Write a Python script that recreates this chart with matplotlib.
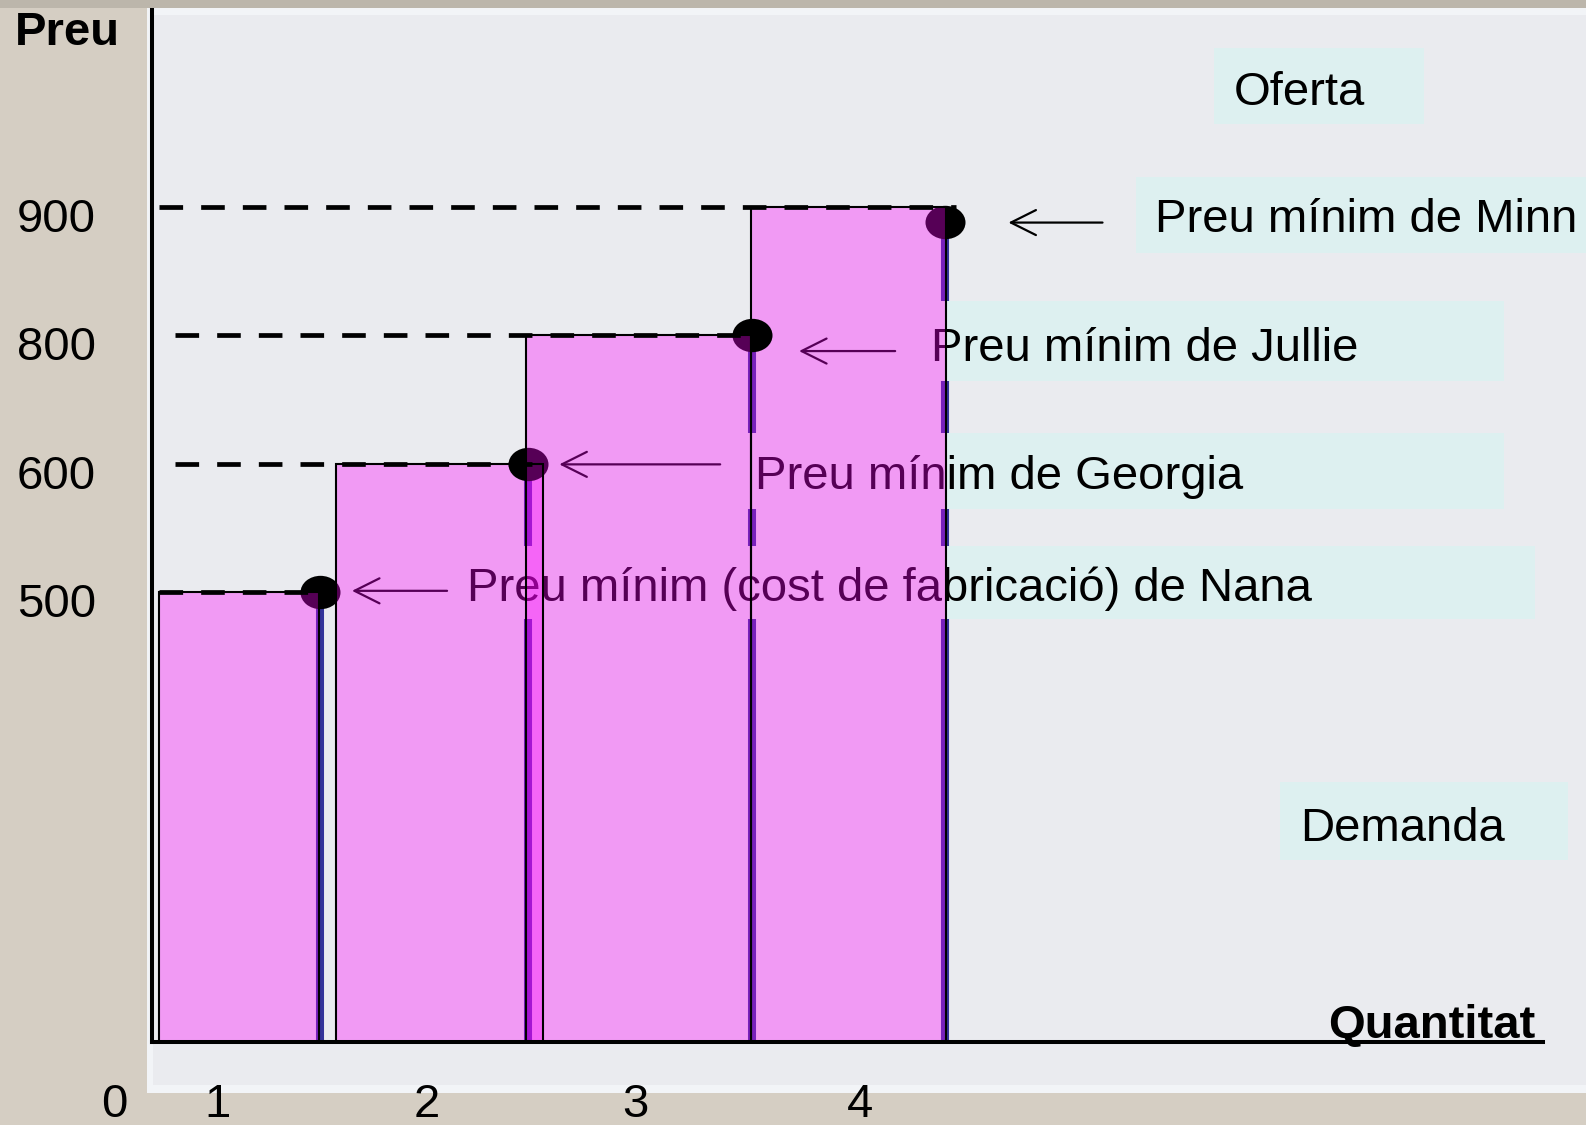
import numpy as np
import matplotlib
matplotlib.use("Agg")
import matplotlib.pyplot as plt
from matplotlib.patches import Rectangle
from matplotlib.path import Path
from matplotlib.transforms import ScaledTranslation

# ---------------- data ----------------
sellers = ["Nana", "Georgia", "Jullie", "Minn"]
quantities = [1, 2, 3, 4]
min_prices = [500, 600, 800, 900]
price_ticks = [500, 600, 800, 900]
price_tick_labels = ["500", "600", "800", "900"]
qty_tick_labels = ["0", "1", "2", "3", "4"]
# schematic supply steps (quantity units of the drawing)
step_left = [0.035, 0.91, 1.85, 2.96]
step_right = [0.825, 1.935, 2.96, 3.925]
point_q = [0.83, 1.86, 2.965, 3.92]
dot_prices = [500, 600, 800, 888]
dash_start = [0.035, 0.115, 0.115, 0.035]
dash_end = [0.825, 1.935, 2.96, 3.975]
qty_tick_pos = [-0.185, 0.325, 1.36, 2.39, 3.5]

label_texts = ["Oferta", "Preu mínim de Minn", "Preu mínim de Jullie",
               "Preu mínim de Georgia", "Preu mínim (cost de fabricació) de Nana",
               "Demanda"]

# ---------------- layout (reference pixel frame 1568x1112) ----------------
W, H = 1568.0, 1112.0
def fx(x):
    return x / W
def fy(y):
    return 1 - y / H

# boxes: (x0, y0, x1, y1), text x, text baseline
label_layout = [
    ((1200, 47, 1408, 123), 1220, 104),
    ((1123, 175, 1600, 250), 1142, 229),
    ((905, 298, 1487, 377), 920, 357),
    ((728, 428, 1487, 503), 746, 483),
    ((445, 540, 1518, 612), 462, 594),
    ((1265, 773, 1550, 850), 1285, 831),
]
# arrows: tail (x,y) -> tip (x,y)
arrow_layout = [
    ((1090, 220), (997, 220)),
    ((885, 347), (790, 347)),
    ((712, 459), (553, 459)),
    ((442, 584), (348, 584)),
]
# stacking of each bar / dot (as in the slide)
bar_z = [3.3, 3.4, 3.7, 3.1]
dot_z = [3.2, 3.5, 3.6, 3.0]

PANEL = "#EAEBEF"
BOX = "#DDF0F0"

plt.rcParams["font.family"] = ["Liberation Sans", "DejaVu Sans"]
plt.rcParams["lines.scale_dashes"] = False

fig = plt.figure(figsize=(15.86, 11.25), dpi=100)
fig.patch.set_facecolor("#D5CEC3")

# slide panel
fig.add_artist(Rectangle((0, fy(8)), 1, 8 / H, transform=fig.transFigure,
                         facecolor="#BCB6AB", edgecolor="none", zorder=-20))
fig.add_artist(Rectangle((fx(145), fy(1080)), 1, (1080 - 8) / H, transform=fig.transFigure,
                         facecolor="#F2F4F7", edgecolor="none", zorder=-19))
fig.add_artist(Rectangle((fx(151), fy(1072)), 1, (1072 - 15) / H, transform=fig.transFigure,
                         facecolor=PANEL, edgecolor="none", zorder=-18))

# axes: x units -> origin at 150 px, 200 px per unit
ax_left_px, ax_right_px = 110, 1525
ax_top_px, ax_bot_px = 10, 1030
ax = fig.add_axes([fx(ax_left_px), fy(ax_bot_px), (ax_right_px - ax_left_px) / W,
                   (ax_bot_px - ax_top_px) / H])
ax.patch.set_alpha(0)
ax.set_xlim(-0.2, (ax_right_px - 150) / 200)

price_nodes = [0, 500, 600, 800, 900, 1100]
pos_nodes = [0, 3.5, 4.5, 5.5, 6.5, 8.5]
def fwd(v):
    return np.interp(v, price_nodes, pos_nodes)
def inv(p):
    return np.interp(p, pos_nodes, price_nodes)
ax.set_yscale("function", functions=(fwd, inv))
ax.set_ylim(0, 1053)

# blue supply verticals
ax.vlines(point_q, 0, min_prices, colors="#333399", lw=5.8, zorder=1)

# x (figure fraction) where the last bar ends: boxes left of it sit under the bars
split = fig.transFigure.inverted().transform(ax.transData.transform((step_right[-1], 0)))[0]

# label boxes, texts, arrows (under translucent bars)
for (box, tx, tb), s in zip(label_layout, label_texts):
    x0, y0, x1, y1 = box
    a, b = fx(x0), fx(x1)
    if a < split:
        ax.add_patch(Rectangle((a, fy(y1)), split - a, (y1 - y0) / H,
                               transform=fig.transFigure, facecolor=PANEL,
                               edgecolor="none", zorder=2, clip_on=False))
        a = split
    ax.add_patch(Rectangle((a, fy(y1)), b - a, (y1 - y0) / H,
                           transform=fig.transFigure, facecolor=BOX,
                           edgecolor="none", zorder=2, clip_on=False))
    ax.text(fx(tx), fy(tb), s, transform=fig.transFigure, fontsize=34,
            ha="left", va="baseline", color="black", zorder=2.5, clip_on=False)

for (tail, tip) in arrow_layout:
    ax.annotate("", xy=(fx(tip[0]), fy(tip[1])), xytext=(fx(tail[0]), fy(tail[1])),
                xycoords="figure fraction", textcoords="figure fraction",
                arrowprops=dict(arrowstyle="->,head_length=0.9,head_width=0.45",
                                lw=1.6, color="black", shrinkA=0, shrinkB=0,
                                mutation_scale=20),
                zorder=2.5, annotation_clip=False)

# translucent pink bars + outlines
widths = np.subtract(step_right, step_left)
bars = ax.bar(step_left, min_prices, width=widths, align="edge", color="#FF00FF",
              alpha=0.34, linewidth=0)
for patch, z in zip(bars.patches, bar_z):
    patch.set_zorder(z)
ax.bar(step_left, min_prices, width=widths, align="edge", fill=False,
       edgecolor="black", linewidth=1.5, zorder=4)

# dashed price lines
ax.hlines(min_prices, dash_start, dash_end, colors="black", lw=3.4,
          linestyles=[(0, (17, 13))], zorder=4)

# dots
circ = Path.unit_circle()
ell = Path(circ.vertices * np.array([1.2, 1.0]), circ.codes)
for q, p, z in zip(point_q, dot_prices, dot_z):
    ax.scatter([q], [p], marker=ell, s=830, c="black", zorder=z, linewidths=0)

# spines
for side in ["top", "right"]:
    ax.spines[side].set_visible(False)
ax.spines["left"].set_position(("data", 0))
ax.spines["bottom"].set_bounds(0, (ax_right_px - 150) / 200)
for side in ["left", "bottom"]:
    ax.spines[side].set_linewidth(2.9)
    ax.spines[side].set_color("black")
    ax.spines[side].set_zorder(6)

# ticks
ax.set_yticks(price_ticks, labels=price_tick_labels)
ax.set_xticks(qty_tick_pos, labels=qty_tick_labels)
ax.yaxis.set_minor_locator(matplotlib.ticker.NullLocator())
ax.tick_params(axis="both", length=0, labelsize=34)
ax.tick_params(axis="y", pad=40)
ax.tick_params(axis="x", pad=54)
for lbl in ax.get_yticklabels():
    lbl.set_va("baseline")
    lbl.set_transform(lbl.get_transform() + ScaledTranslation(0, -25 / 100, fig.dpi_scale_trans))
for lbl in ax.get_xticklabels():
    lbl.set_va("baseline")

# axis titles
fig.text(fx(15), fy(44), "Preu", fontsize=34, fontweight="bold", ha="left", va="baseline")
fig.text(fx(1313), fy(1026), "Quantitat", fontsize=34, fontweight="bold", ha="left", va="baseline")

fig.savefig("out.png", dpi=100, facecolor=fig.get_facecolor())
